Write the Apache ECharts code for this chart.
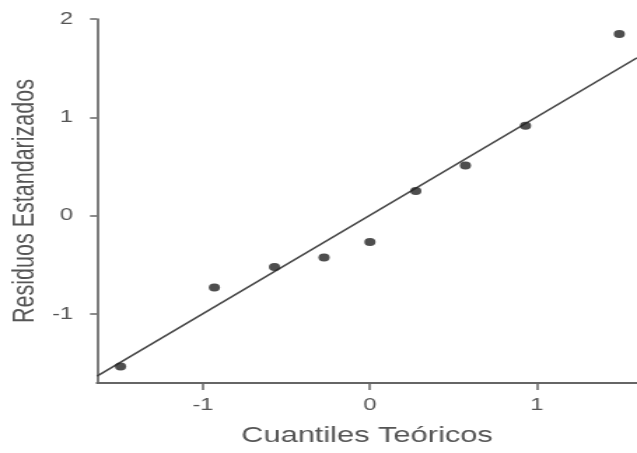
<!DOCTYPE html>
<html>
<head>
<meta charset="utf-8">
<script src="https://cdn.jsdelivr.net/npm/echarts@6/dist/echarts.min.js"></script>
<style>
  html, body { margin: 0; padding: 0; background: #fff; overflow: hidden; }
  #wrap { width: 637px; height: 453px; overflow: hidden; }
  #chart { width: 455px; height: 453px; transform: scaleX(1.4); transform-origin: 0 0; }
</style>
</head>
<body>
<div id="wrap"><div id="chart"></div></div>
<script>
// Theoretical quantiles (x) and standardized residuals (y)
const theoreticalQuantiles = [-1.494, -0.932, -0.572, -0.275, 0.0, 0.275, 0.572, 0.932, 1.494];
const standardizedResiduals = [-1.533, -0.729, -0.522, -0.424, -0.268, 0.252, 0.511, 0.915, 1.848];
// Reference line (qqline)
const lineIntercept = 0.005;
const lineSlope = 1.0;
// Axis ticks
const xTicks = [-1, 0, 1];
const yTicks = [-1, 0, 1, 2];
const xRange = [-1.635, 1.6];
const yRange = [-1.70, 2];

const points = theoreticalQuantiles.map((x, i) => [x, standardizedResiduals[i]]);
const lineData = xRange.map(x => [x, lineIntercept + lineSlope * x]);

const chart = echarts.init(document.getElementById('chart'), null, { renderer: 'canvas' });
const font = 'Liberation Sans, Arial, Helvetica, sans-serif';
chart.setOption({
  animation: false,
  backgroundColor: '#ffffff',
  grid: { left: 69.3, right: 0, top: 19, bottom: 70, containLabel: false, outerBoundsMode: 'none' },
  xAxis: {
    type: 'value',
    min: xRange[0], max: xRange[1],
    name: 'Cuantiles Teóricos',
    nameLocation: 'middle',
    nameGap: 42,
    nameMoveOverlap: false,
    nameTextStyle: { fontFamily: font, fontSize: 22, color: '#555555' },
    axisLine: { show: true, onZero: false, lineStyle: { color: '#666666', width: 2 } },
    axisTick: { show: true, length: 7, customValues: xTicks, lineStyle: { color: '#666666', width: 1.5 } },
    axisLabel: { customValues: xTicks, margin: 14, fontFamily: font, fontSize: 17, color: '#555555' },
    splitLine: { show: false }
  },
  yAxis: {
    type: 'value',
    min: yRange[0], max: yRange[1],
    name: 'Residuos Estandarizados',
    nameLocation: 'middle',
    nameGap: 40,
    nameMoveOverlap: false,
    nameTextStyle: { fontFamily: font, fontSize: 21.5, color: '#555555' },
    axisLine: { show: true, onZero: false, lineStyle: { color: '#666666', width: 1.7 } },
    axisTick: { show: true, length: 5, customValues: yTicks, lineStyle: { color: '#666666', width: 1.5 } },
    axisLabel: { customValues: yTicks, margin: 17, fontFamily: font, fontSize: 17, color: '#555555' },
    splitLine: { show: false }
  },
  series: [
    {
      type: 'line',
      data: lineData,
      symbol: 'none',
      lineStyle: { color: '#444444', width: 1.5 },
      silent: true,
      z: 1
    },
    {
      type: 'scatter',
      data: points,
      symbol: 'circle',
      symbolSize: 8,
      itemStyle: { color: '#222222' },
      z: 2
    }
  ]
});
</script>
</body>
</html>
